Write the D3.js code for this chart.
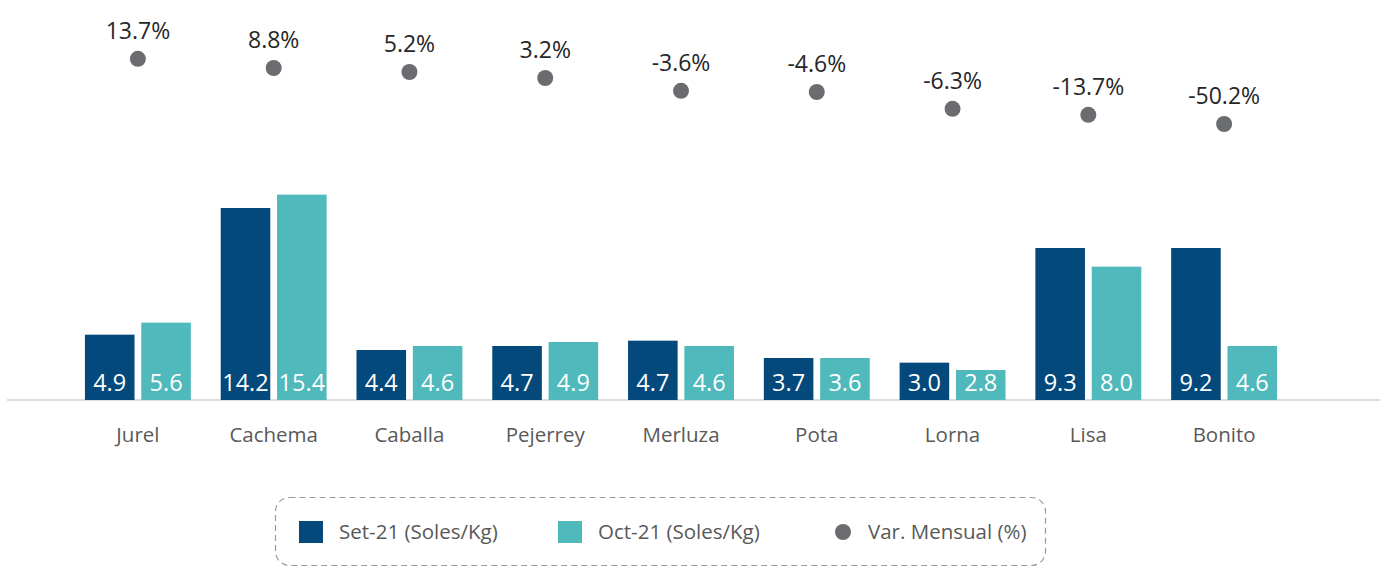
<!DOCTYPE html>
<html>
<head>
<meta charset="utf-8">
<script src="https://cdn.jsdelivr.net/npm/d3@7"></script>
<style>
  body { margin: 0; background: #fff; }
  svg { display: block; font-family: "Open Sans", sans-serif; }
</style>
</head>
<body>
<div id="svganchor"></div>
<script>
let width = 1380, height = 567;

// categories
let species = ["Jurel", "Cachema", "Caballa", "Pejerrey", "Merluza", "Pota", "Lorna", "Lisa", "Bonito"];

// bar lengths as drawn in the picture (Soles/Kg)
let setValues = [4.9, 14.4, 3.75, 4.05, 4.45, 3.15, 2.8, 11.4, 11.4];
let octValues = [5.8, 15.4, 4.05, 4.35, 4.05, 3.15, 2.25, 10.0, 4.05];

// labels printed on the bars
let setLabels = ["4.9", "14.2", "4.4", "4.7", "4.7", "3.7", "3.0", "9.3", "9.2"];
let octLabels = ["5.6", "15.4", "4.6", "4.9", "4.6", "3.6", "2.8", "8.0", "4.6"];

// monthly variation: printed labels and the level of each dot on the hidden secondary axis
let varLabels = ["13.7%", "8.8%", "5.2%", "3.2%", "-3.6%", "-4.6%", "-6.3%", "-13.7%", "-50.2%"];
let varLevels = [85.3, 83, 82, 80.5, 77.3, 77, 72.8, 71.3, 69];

let seriesNames = ["Set-21 (Soles/Kg)", "Oct-21 (Soles/Kg)", "Var. Mensual (%)"];

let colors = { set: "#03497b", oct: "#4fb9bc", dot: "#6b6c70" };
let baseY = 400;

let svg = d3.select("#svganchor")
    .append("svg")
    .attr("width", width)
    .attr("height", height);

let xScale = d3.scaleBand()
    .domain(species)
    .range([70, 1292])
    .paddingInner(0.22)
    .paddingOuter(0.11);

let xSub = d3.scaleBand()
    .domain(["set", "oct"])
    .range([0, xScale.bandwidth()])
    .paddingInner(0.12);

let yScale = d3.scaleLinear()
    .domain([0, 30])
    .range([baseY, 0]);

let y2Scale = d3.scaleLinear()
    .domain([0, 100])
    .range([baseY, 0]);

let rows = species.map(function(s, i) {
    return {
        name: s,
        bars: [
            { key: "set", value: setValues[i], label: setLabels[i] },
            { key: "oct", value: octValues[i], label: octLabels[i] }
        ],
        level: varLevels[i],
        varLabel: varLabels[i]
    };
});

// x axis
let xAxis = d3.axisBottom(xScale)
    .tickSize(0)
    .tickPadding(27);

let gX = svg.append("g")
    .attr("class", "x axis")
    .attr("transform", `translate(0,${baseY})`)
    .call(xAxis);

gX.select(".domain").remove();
gX.append("line")
    .attr("x1", 7)
    .attr("x2", width)
    .attr("stroke", "#d0d0d0")
    .attr("stroke-width", 1.3);

gX.selectAll(".tick text")
    .attr("font-family", "Open Sans")
    .attr("font-size", 20.5)
    .attr("fill", "#595959");

// bars
let groups = svg.selectAll(".group")
    .data(rows)
    .enter()
    .append("g")
    .attr("class", "group")
    .attr("transform", function(d) { return `translate(${xScale(d.name)},0)`; });

groups.selectAll("rect")
    .data(function(d) { return d.bars; })
    .enter()
    .append("rect")
    .attr("x", function(d) { return xSub(d.key); })
    .attr("y", function(d) { return yScale(d.value); })
    .attr("width", xSub.bandwidth())
    .attr("height", function(d) { return baseY - yScale(d.value); })
    .attr("fill", function(d) { return colors[d.key]; });

groups.selectAll(".barLabel")
    .data(function(d) { return d.bars; })
    .enter()
    .append("text")
    .attr("class", "barLabel")
    .attr("text-anchor", "middle")
    .attr("x", function(d) { return xSub(d.key) + xSub.bandwidth() / 2; })
    .attr("y", baseY - 9)
    .attr("font-size", 23.5)
    .attr("fill", "#fff")
    .text(function(d) { return d.label; });

// variation dots
let dots = svg.selectAll(".dot")
    .data(rows)
    .enter()
    .append("g")
    .attr("class", "dot")
    .attr("transform", function(d) {
        return `translate(${xScale(d.name) + xScale.bandwidth() / 2},${y2Scale(d.level)})`;
    });

dots.append("circle")
    .attr("r", 8)
    .attr("fill", colors.dot);

dots.append("text")
    .attr("text-anchor", "middle")
    .attr("y", -20)
    .attr("font-size", 23)
    .attr("fill", "#262626")
    .text(function(d) { return d.varLabel; });

// legend
let legend = svg.append("g").attr("class", "legend");

legend.append("rect")
    .attr("x", 275.5)
    .attr("y", 497.5)
    .attr("width", 770)
    .attr("height", 68)
    .attr("rx", 14)
    .attr("ry", 14)
    .attr("fill", "none")
    .attr("stroke", "#9a9a9a")
    .attr("stroke-width", 1.2)
    .attr("stroke-dasharray", "6,4");

let legendItems = [
    { name: seriesNames[0], x: 299, type: "rect", color: colors.set },
    { name: seriesNames[1], x: 558, type: "rect", color: colors.oct },
    { name: seriesNames[2], x: 835, type: "circle", color: colors.dot }
];

legendItems.forEach(function(item) {
    if (item.type === "rect") {
        legend.append("rect")
            .attr("x", item.x)
            .attr("y", 521)
            .attr("width", 24)
            .attr("height", 22)
            .attr("fill", item.color);
        legend.append("text")
            .attr("x", item.x + 40)
            .attr("y", 539)
            .attr("font-size", 20.5)
            .attr("fill", "#595959")
            .text(item.name);
    } else {
        legend.append("circle")
            .attr("cx", item.x + 8)
            .attr("cy", 532)
            .attr("r", 8)
            .attr("fill", item.color);
        legend.append("text")
            .attr("x", item.x + 33)
            .attr("y", 539)
            .attr("font-size", 20.5)
            .attr("fill", "#595959")
            .text(item.name);
    }
});
</script>
</body>
</html>
